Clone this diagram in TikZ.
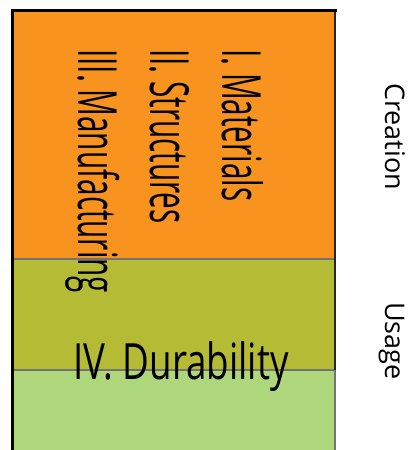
\documentclass[tikz,border=0pt]{standalone}
\usepackage{fontspec}
\setmainfont{Open Sans}
\newfontfamily\rotfont[FakeStretch=0.55]{Open Sans}
\newfontfamily\horfont[FakeStretch=0.735]{Open Sans}
\definecolor{orangeband}{RGB}{247,147,30}
\definecolor{oliveband}{RGB}{181,187,53}
\definecolor{greenband}{RGB}{174,214,122}
\begin{document}
\begin{tikzpicture}[x=1pt,y=-1pt,
  band/.style={draw=black!55,line width=1.5pt},
  rottext/.style={inner sep=0pt,rotate=-90,anchor=base west,font=\rotfont\fontsize{54}{54}\selectfont},
  hortext/.style={inner sep=0pt,anchor=base west,font=\horfont\fontsize{50}{50}\selectfont},
  sidetext/.style={inner sep=0pt,rotate=-90,anchor=base west,font=\fontsize{27}{27}\selectfont}]
\useasboundingbox (0,0) rectangle (409,450);
\fill[white] (0,0) rectangle (409,450);
\path[band,fill=orangeband] (12,10) rectangle (335,259);
\path[band,fill=oliveband] (12,259) rectangle (335,370);
\path[band,fill=greenband] (12,370) rectangle (335,452);
\draw[black!85,line width=2pt] (335,10) -- (335,370);
\draw[line width=3pt,line cap=rect] (12.5,452) -- (12.5,10.5) -- (335,10.5);
\node[rottext] (mat) at (222,49) {I. Materials};
\node[rottext] (str) at (150,49) {II. Structures};
\node[rottext] (man) at (78,49) {III. Manufacturing};
\node[hortext] (dur) at (73,379) {IV. Durability};
\node[sidetext] (cre) at (385,83) {Creation};
\node[sidetext] (usa) at (385,302) {Usage};
\end{tikzpicture}
\end{document}
